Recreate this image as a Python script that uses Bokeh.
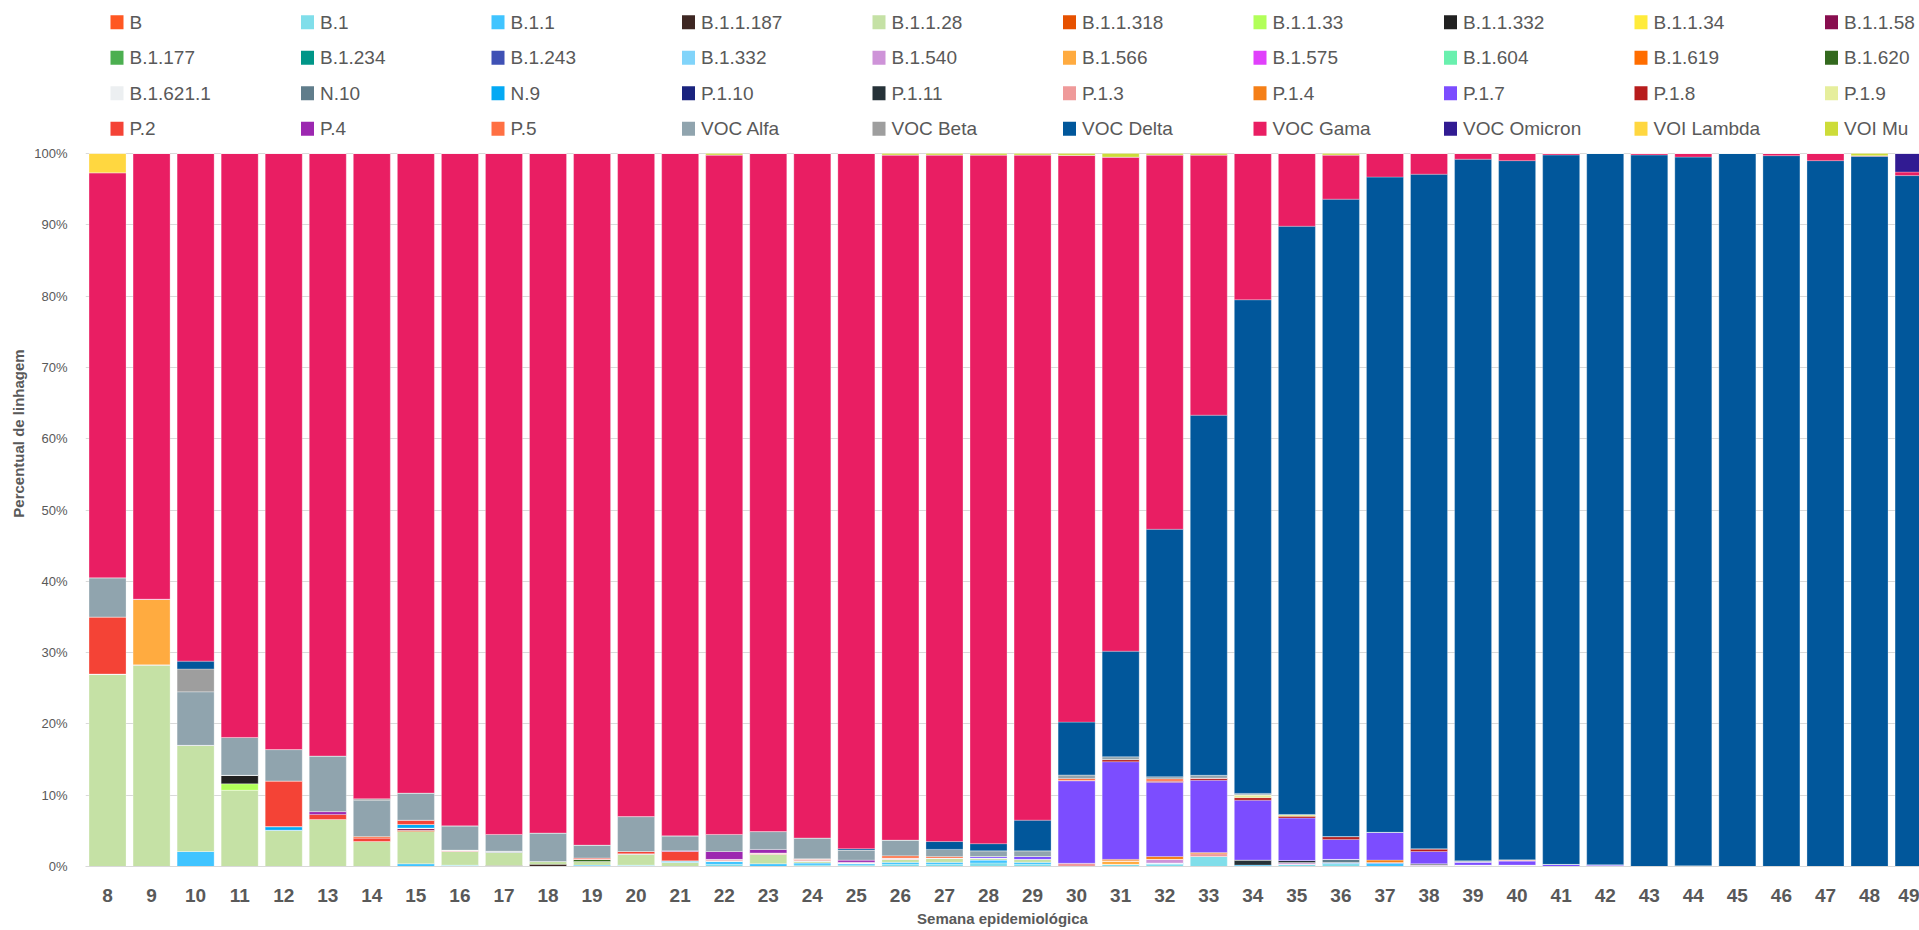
from bokeh.plotting import figure
from bokeh.models import Range1d, FixedTicker, PrintfTickFormatter, ColumnDataSource
from bokeh.embed import file_html
from bokeh.resources import INLINE
from bokeh.core.properties import value

# ---------------- data (percent of sequenced lineages per epidemiological week) ----------------
weeks = [8, 9, 10, 11, 12, 13, 14, 15, 16, 17,
         18, 19, 20, 21, 22, 23, 24, 25, 26, 27,
         28, 29, 30, 31, 32, 33, 34, 35, 36, 37,
         38, 39, 40, 41, 42, 43, 44, 45, 46, 47,
         48, 49]

names = ["B", "B.1", "B.1.1", "B.1.1.187", "B.1.1.28", "B.1.1.318", "B.1.1.33", "B.1.1.332", "B.1.1.34", "B.1.1.58",
         "B.1.177", "B.1.234", "B.1.243", "B.1.332", "B.1.540", "B.1.566", "B.1.575", "B.1.604", "B.1.619", "B.1.620",
         "B.1.621.1", "N.10", "N.9", "P.1.10", "P.1.11", "P.1.3", "P.1.4", "P.1.7", "P.1.8", "P.1.9",
         "P.2", "P.4", "P.5", "VOC Alfa", "VOC Beta", "VOC Delta", "VOC Gama", "VOC Omicron", "VOI Lambda", "VOI Mu"]

colors = ["#FF5722", "#80DEEA", "#40C4FF", "#3E2723", "#C5E1A5", "#E65100", "#B2FF59", "#212121", "#FFEB3B", "#880E4F",
          "#4CAF50", "#009688", "#3F51B5", "#81D4FA", "#CE93D8", "#FFAB40", "#E040FB", "#69F0AE", "#FF6D00", "#33691E",
          "#ECEFF1", "#607D8B", "#03A9F4", "#1A237E", "#263238", "#EF9A9A", "#F57F17", "#7C4DFF", "#B71C1C", "#E6EE9C",
          "#F44336", "#9C27B0", "#FF7043", "#90A4AE", "#9E9E9E", "#01579B", "#E91E63", "#311B92", "#FFD740", "#CDDC39"]

#            w8 .................................................. w17 | w18 ............................................. w27 | w28 ........................................................ w37 | w38 ................................................ w47 | w48, w49
B         = [0, 0, 0, 0, 0, 0, 0, 0, 0, 0,             0, 0, 0, 0, 0, 0, 0, 0, 0, 0,               0, 0, 0, 0, 0, 0, 0, 0, 0, 0,                 0, 0, 0, 0, 0, 0, 0, 0, 0, 0,                0, 0]
B_1       = [0, 0, 0, 0, 0, 0, 0, 0, 0.2, 0,           0, 0, 0.2, 0, 0.3, 0, 0.2, 0.2, 0.3, 0.3,   0.5, 0.3, 0, 0.3, 0.3, 1.4, 0, 0.3, 0.4, 0,   0, 0, 0.2, 0, 0, 0, 0.1, 0, 0, 0,            0, 0]
B_1_1     = [0, 0, 2.1, 0, 0, 0, 0, 0.4, 0, 0,         0, 0.2, 0, 0, 0.4, 0.4, 0.3, 0.2, 0.3, 0.3, 0.4, 0.3, 0, 0, 0.2, 0, 0, 0, 0.15, 0.55,  0, 0, 0, 0, 0, 0, 0, 0, 0, 0,                0, 0]
B_1_1_187 = [0, 0, 0, 0, 0, 0, 0, 0, 0, 0.15,          0.3, 0, 0, 0, 0, 0, 0, 0, 0, 0,             0, 0, 0, 0, 0, 0, 0, 0, 0, 0,                 0, 0, 0, 0, 0, 0, 0, 0, 0, 0,                0, 0]
B_1_1_28  = [27.0, 28.3, 14.9, 10.7, 5.1, 6.6, 3.5, 4.5, 1.9, 1.85,
             0.4, 0.5, 1.6, 0.6, 0.1, 1.3, 0.3, 0.1, 0.4, 0.6,
             0.3, 0.4, 0, 0, 0, 0, 0, 0, 0, 0,
             0, 0, 0, 0, 0, 0, 0, 0, 0, 0,
             0, 0]
B_1_1_318 = [0, 0, 0, 0, 0, 0, 0, 0.2, 0, 0,           0, 0, 0, 0, 0, 0, 0, 0, 0, 0,               0, 0, 0, 0, 0, 0, 0, 0, 0, 0,                 0, 0, 0, 0, 0, 0, 0, 0, 0, 0,                0, 0]
B_1_1_33  = [0, 0, 0, 0.9, 0, 0, 0, 0, 0, 0,           0, 0, 0, 0, 0, 0, 0, 0, 0, 0,               0, 0, 0, 0, 0, 0, 0, 0, 0, 0,                 0, 0, 0, 0, 0, 0, 0, 0, 0, 0,                0, 0]
B_1_1_332 = [0, 0, 0, 1.2, 0, 0, 0, 0, 0, 0,           0, 0, 0, 0, 0, 0, 0, 0, 0, 0,               0, 0, 0, 0, 0, 0, 0, 0, 0, 0,                 0, 0, 0, 0, 0, 0, 0, 0, 0, 0,                0, 0]
B_1_1_34  = [0, 0, 0, 0, 0, 0, 0, 0, 0, 0,             0, 0, 0, 0, 0, 0, 0, 0, 0, 0,               0, 0, 0, 0, 0, 0, 0, 0, 0, 0,                 0, 0, 0, 0, 0, 0, 0, 0, 0, 0,                0, 0]
B_1_1_58  = [0, 0, 0, 0, 0, 0, 0, 0.3, 0, 0,           0, 0, 0, 0, 0, 0, 0, 0, 0, 0,               0, 0, 0, 0, 0, 0, 0, 0, 0, 0,                 0, 0, 0, 0, 0, 0, 0, 0, 0, 0,                0, 0]
B_1_177   = [0, 0, 0, 0, 0, 0, 0, 0, 0, 0,             0, 0, 0, 0, 0, 0, 0, 0, 0, 0,               0, 0, 0, 0, 0, 0, 0, 0, 0, 0,                 0, 0, 0, 0, 0, 0, 0, 0, 0, 0,                0, 0]
B_1_234   = [0, 0, 0, 0, 0, 0, 0, 0, 0, 0,             0, 0, 0, 0, 0, 0, 0, 0, 0, 0,               0, 0, 0, 0, 0, 0, 0, 0, 0, 0,                 0, 0.2, 0, 0, 0, 0, 0, 0, 0, 0,              0, 0]
B_1_243   = [0, 0, 0, 0, 0, 0, 0, 0, 0, 0,             0, 0, 0, 0, 0, 0, 0, 0, 0, 0,               0, 0, 0, 0, 0, 0, 0, 0, 0, 0,                 0, 0, 0, 0, 0, 0, 0, 0, 0, 0,                0, 0]
B_1_332   = [0, 0, 0, 0, 0, 0, 0, 0, 0, 0,             0, 0, 0, 0, 0, 0, 0, 0, 0, 0,               0, 0, 0, 0, 0, 0, 0, 0, 0, 0,                 0, 0, 0, 0, 0, 0, 0, 0, 0, 0,                0, 0]
B_1_540   = [0, 0, 0, 0, 0, 0, 0, 0, 0, 0,             0, 0, 0, 0, 0, 0, 0, 0, 0, 0,               0, 0, 0, 0, 0.5, 0, 0, 0.25, 0, 0,            0.25, 0, 0, 0, 0, 0, 0, 0, 0, 0,             0, 0]
B_1_566   = [0, 9.2, 0, 0, 0, 0, 0, 0, 0, 0,           0, 0, 0, 0, 0, 0, 0, 0, 0, 0,               0, 0, 0, 0.5, 0, 0, 0, 0, 0, 0,               0, 0, 0, 0, 0, 0, 0, 0, 0, 0,                0, 0]
B_1_575   = [0, 0, 0, 0, 0, 0, 0, 0, 0, 0,             0, 0, 0, 0, 0, 0, 0, 0, 0, 0,               0, 0, 0, 0, 0, 0, 0, 0, 0, 0,                 0, 0, 0, 0, 0, 0, 0, 0, 0, 0,                0, 0]
B_1_604   = [0, 0, 0, 0, 0, 0, 0, 0, 0, 0,             0, 0, 0, 0, 0, 0, 0, 0, 0, 0,               0, 0, 0, 0, 0, 0, 0, 0, 0, 0,                 0, 0, 0, 0, 0, 0, 0, 0, 0, 0,                0, 0]
B_1_619   = [0, 0, 0, 0, 0, 0, 0, 0, 0, 0,             0, 0, 0, 0, 0, 0, 0, 0, 0, 0,               0, 0, 0, 0, 0, 0, 0, 0, 0, 0,                 0, 0, 0, 0, 0, 0, 0, 0, 0, 0,                0, 0]
B_1_620   = [0, 0, 0, 0, 0, 0, 0, 0, 0, 0,             0, 0.3, 0, 0, 0, 0, 0, 0, 0, 0,             0, 0, 0, 0, 0, 0, 0, 0, 0, 0,                 0, 0, 0, 0, 0, 0, 0, 0, 0, 0,                0, 0]
B_1_621_1 = [0, 0, 0, 0, 0, 0, 0, 0, 0, 0,             0, 0, 0, 0, 0, 0, 0, 0, 0, 0,               0, 0, 0, 0, 0, 0, 0, 0, 0, 0,                 0, 0, 0, 0, 0, 0, 0, 0, 0, 0,                0, 0]
N_10      = [0, 0, 0, 0, 0, 0, 0, 0, 0, 0.15,          0, 0, 0, 0, 0, 0, 0, 0, 0, 0,               0, 0, 0, 0, 0, 0, 0, 0, 0.45, 0,              0, 0, 0, 0, 0, 0, 0, 0, 0, 0,                0, 0]
N_9       = [0, 0, 0, 0, 0.5, 0, 0, 0.5, 0, 0,         0, 0, 0, 0.2, 0, 0, 0, 0, 0, 0,             0, 0, 0, 0, 0, 0, 0.2, 0, 0, 0,               0, 0, 0, 0, 0, 0, 0, 0, 0, 0,                0, 0]
P_1_10    = [0, 0, 0, 0, 0, 0, 0, 0, 0, 0,             0, 0, 0, 0, 0, 0, 0, 0, 0, 0,               0, 0, 0, 0, 0, 0, 0, 0, 0, 0,                 0, 0, 0, 0, 0, 0, 0, 0, 0, 0,                0, 0]
P_1_11    = [0, 0, 0, 0, 0, 0, 0, 0, 0, 0,             0, 0, 0, 0, 0, 0, 0, 0, 0, 0,               0, 0, 0, 0, 0, 0, 0.7, 0.3, 0, 0,             0.15, 0, 0, 0, 0, 0, 0, 0, 0, 0,             0, 0]
P_1_3     = [0, 0, 0, 0, 0, 0, 0, 0, 0.2, 0,           0, 0, 0, 0, 0.2, 0.2, 0.2, 0.1, 0.2, 0,     0, 0, 0.45, 0, 0, 0.4, 0, 0, 0, 0,            0, 0, 0, 0, 0, 0, 0, 0, 0, 0,                0, 0]
P_1_4     = [0, 0, 0, 0, 0, 0, 0, 0, 0, 0,             0, 0, 0, 0, 0, 0, 0, 0, 0, 0,               0, 0, 0, 0.2, 0.4, 0.15, 0, 0, 0, 0.35,       0, 0, 0, 0, 0, 0, 0, 0, 0, 0,                0, 0]
P_1_7     = [0, 0, 0, 0, 0, 0, 0, 0, 0, 0,             0, 0, 0, 0, 0, 0, 0, 0, 0, 0,
             0.2, 0.4, 11.6, 13.7, 10.4, 10.15, 8.4, 5.95, 2.8, 3.9,
             1.7, 0.45, 0.6, 0.3, 0.25, 0, 0, 0, 0, 0,
             0, 0]
P_1_8     = [0, 0, 0, 0, 0, 0, 0, 0, 0, 0,             0, 0, 0, 0, 0, 0, 0, 0, 0, 0,               0, 0, 0, 0.3, 0.2, 0.3, 0.35, 0.25, 0.4, 0,   0.4, 0, 0, 0, 0, 0, 0, 0, 0, 0,              0, 0]
P_1_9     = [0, 0, 0, 0, 0, 0, 0, 0, 0, 0,             0, 0, 0, 0, 0, 0, 0, 0, 0, 0,               0, 0, 0, 0, 0, 0, 0.4, 0.25, 0, 0,            0, 0, 0, 0, 0, 0, 0, 0, 0, 0,                0, 0]
P_2       = [8.0, 0, 0, 0, 6.4, 0.7, 0.5, 0.6, 0, 0,   0, 0.2, 0.3, 1.3, 0, 0, 0.1, 0, 0, 0,       0, 0, 0, 0, 0, 0, 0, 0, 0, 0,                 0, 0, 0.13, 0, 0, 0, 0, 0, 0, 0,             0, 0]
P_4       = [0, 0, 0, 0, 0, 0.4, 0, 0, 0, 0,           0, 0, 0, 0.1, 1.1, 0.5, 0, 0.3, 0, 0,       0, 0, 0, 0, 0, 0, 0, 0, 0, 0,                 0, 0, 0, 0, 0, 0, 0, 0, 0, 0,                0, 0]
P_5       = [0, 0, 0, 0, 0, 0, 0.2, 0, 0, 0,           0, 0, 0, 0, 0, 0, 0, 0, 0.3, 0.2,           0, 0, 0.3, 0, 0.3, 0, 0, 0, 0, 0,             0, 0, 0, 0, 0, 0, 0, 0, 0, 0,                0, 0]
VOC_Alfa  = [5.5, 0, 7.5, 5.3, 4.4, 7.8, 5.1, 3.8, 3.4, 2.35,
             4.0, 1.8, 4.9, 2.1, 2.4, 2.5, 2.9, 1.4, 2.2, 1.0,
             0.8, 0.8, 0.5, 0.4, 0.3, 0.4, 0.2, 0, 0, 0,
             0, 0.15, 0, 0, 0, 0, 0, 0, 0, 0,
             0, 0]
VOC_Beta  = [0, 0, 3.2, 0, 0, 0, 0.2, 0, 0, 0,         0, 0, 0, 0, 0, 0, 0, 0, 0, 0,               0, 0, 0, 0, 0, 0, 0, 0, 0, 0,                 0, 0, 0, 0, 0, 0, 0, 0, 0, 0,                0, 0]
VOC_Delta = [0, 0, 1.1, 0, 0, 0, 0, 0, 0, 0,
             0, 0, 0, 0, 0, 0, 0, 0.2, 0, 1.1,
             1.0, 4.3, 7.4, 14.8, 34.7, 50.5, 69.2, 82.5, 89.4, 91.9,
             94.6, 98.4, 98.1, 99.5, 99.75, 99.8, 99.4, 100.0, 99.7, 99.0,
             99.6, 96.9]
VOC_Gama  = [56.8, 62.5, 71.2, 81.9, 83.6, 84.5, 90.5, 89.7, 94.3, 95.5,
             95.3, 97.0, 93.0, 95.7, 95.3, 95.1, 96.0, 97.5, 96.1, 96.3,
             96.6, 93.3, 79.5, 69.3, 52.5, 36.5, 20.5, 10.2, 6.2, 3.3,
             2.9, 0.8, 1.0, 0.2, 0, 0.2, 0.5, 0, 0.3, 1.0,
             0.1, 0.5]
VOC_Omicron = [0, 0, 0, 0, 0, 0, 0, 0, 0, 0,           0, 0, 0, 0, 0, 0, 0, 0, 0, 0,               0, 0, 0, 0, 0, 0, 0, 0, 0, 0,                 0, 0, 0, 0, 0, 0, 0, 0, 0, 0,                0, 2.6]
VOI_Lambda  = [2.7, 0, 0, 0, 0, 0, 0, 0, 0, 0,         0, 0, 0, 0, 0, 0, 0, 0, 0, 0,               0, 0, 0, 0, 0, 0, 0, 0, 0, 0,                 0, 0, 0, 0, 0, 0, 0, 0, 0, 0,                0, 0]
VOI_Mu      = [0, 0, 0, 0, 0, 0, 0, 0, 0, 0,           0, 0, 0, 0, 0.2, 0, 0, 0, 0.2, 0.2,         0.2, 0.2, 0.25, 0.5, 0.2, 0.2, 0, 0, 0.2, 0,  0, 0, 0, 0, 0, 0, 0, 0, 0, 0,                0.3, 0]

series = [B, B_1, B_1_1, B_1_1_187, B_1_1_28, B_1_1_318, B_1_1_33, B_1_1_332, B_1_1_34, B_1_1_58,
          B_1_177, B_1_234, B_1_243, B_1_332, B_1_540, B_1_566, B_1_575, B_1_604, B_1_619, B_1_620,
          B_1_621_1, N_10, N_9, P_1_10, P_1_11, P_1_3, P_1_4, P_1_7, P_1_8, P_1_9,
          P_2, P_4, P_5, VOC_Alfa, VOC_Beta, VOC_Delta, VOC_Gama, VOC_Omicron, VOI_Lambda, VOI_Mu]

# ---------------- 100% stacking ----------------
totals = [sum(s[i] for s in series) for i in range(len(weeks))]
data = {"week": weeks}
keys = []
for k, s in enumerate(series):
    key = "s%d" % k
    keys.append(key)
    data[key] = [100.0 * v / t for v, t in zip(s, totals)]
src = ColumnDataSource(data)

GRAY = "#595959"
FONT = "Liberation Sans"

# ---------------- layout (page pixels; the figure sits at the page origin) ----------------
FIG_W, FIG_H = 1919, 930
LEFT, BOTTOM = 85, 64
PLOT_TOP_PX = 153          # page y of the 100% line
FRAME_TOP_PX, FRAME_BOT_PX = 0, FIG_H - BOTTOM
FRAME_L_PX, FRAME_R_PX = LEFT, FIG_W
px_per_pct = (FRAME_BOT_PX - PLOT_TOP_PX) / 100.0
y_top = 100.0 + (PLOT_TOP_PX - FRAME_TOP_PX) / px_per_pct
band = 44.05
x_end = 7.5 + (FRAME_R_PX - FRAME_L_PX) / band

p = figure(width=FIG_W, height=FIG_H, x_range=Range1d(7.5, x_end), y_range=Range1d(0, y_top),
           output_backend="svg", toolbar_location=None,
           min_border_left=LEFT, min_border_right=0, min_border_top=0, min_border_bottom=BOTTOM)
# pixel-coordinate ranges used only for the legend block above the bars
p.extra_x_ranges = {"px": Range1d(FRAME_L_PX, FRAME_R_PX)}
p.extra_y_ranges = {"px": Range1d(FRAME_BOT_PX, FRAME_TOP_PX)}

p.vbar_stack(keys, x="week", width=0.84, fill_color=colors, line_color="white",
             line_alpha=0.35, line_width=0.8, source=src)

# ---------------- legend ----------------
col_pitch, row_pitch = 190.5, 35.5
sq_left0, row0 = 110, 21.8
lx, ly, tx = [], [], []
for i in range(len(names)):
    c, r = i % 10, i // 10
    lx.append(sq_left0 + c * col_pitch + 6.5)
    tx.append(sq_left0 + c * col_pitch + 19)
    ly.append(row0 + r * row_pitch)
lsrc = ColumnDataSource(dict(x=lx, tx=tx, y=ly, name=names, color=colors))
p.rect(x="x", y="y", width=13, height=14, width_units="screen", height_units="screen",
       fill_color="color", line_color=None, source=lsrc, x_range_name="px", y_range_name="px")
p.text(x="tx", y="y", text="name", source=lsrc, text_font=value(FONT), text_font_size="19px",
       text_color=GRAY, text_baseline="middle", text_align="left", x_range_name="px", y_range_name="px")

# ---------------- axes / grid ----------------
p.outline_line_color = None
p.xgrid.grid_line_color = None
p.ygrid.grid_line_color = "#d9d9d9"
p.ygrid.grid_line_width = 1.2
p.ygrid.ticker = FixedTicker(ticks=list(range(0, 101, 10)))

p.xaxis.ticker = FixedTicker(ticks=weeks)
p.xaxis.major_tick_line_color = None
p.xaxis.minor_tick_line_color = None
p.xaxis.axis_line_color = "#d9d9d9"
p.xaxis.axis_line_width = 1.2
p.xaxis.major_label_text_font = FONT
p.xaxis.major_label_text_font_size = "19px"
p.xaxis.major_label_text_font_style = "bold"
p.xaxis.major_label_text_color = GRAY
p.xaxis.major_label_standoff = 16
p.xaxis.axis_label = "Semana epidemiológica"
p.xaxis.axis_label_text_font = FONT
p.xaxis.axis_label_text_font_size = "15px"
p.xaxis.axis_label_text_font_style = "bold"
p.xaxis.axis_label_text_color = GRAY
p.xaxis.axis_label_standoff = 5

p.yaxis.ticker = FixedTicker(ticks=list(range(0, 101, 10)))
p.yaxis.formatter = PrintfTickFormatter(format="%d%%")
p.yaxis.major_tick_line_color = None
p.yaxis.minor_tick_line_color = None
p.yaxis.axis_line_color = None
p.yaxis.major_label_text_font = FONT
p.yaxis.major_label_text_font_size = "13px"
p.yaxis.major_label_text_color = GRAY
p.yaxis.major_label_standoff = 12
p.yaxis.axis_label = "Percentual de linhagem"
p.yaxis.axis_label_text_font = FONT
p.yaxis.axis_label_text_font_size = "15px"
p.yaxis.axis_label_text_font_style = "bold"
p.yaxis.axis_label_text_color = GRAY
p.yaxis.axis_label_standoff = 4

open("out.html", "w").write(file_html(p, INLINE))
